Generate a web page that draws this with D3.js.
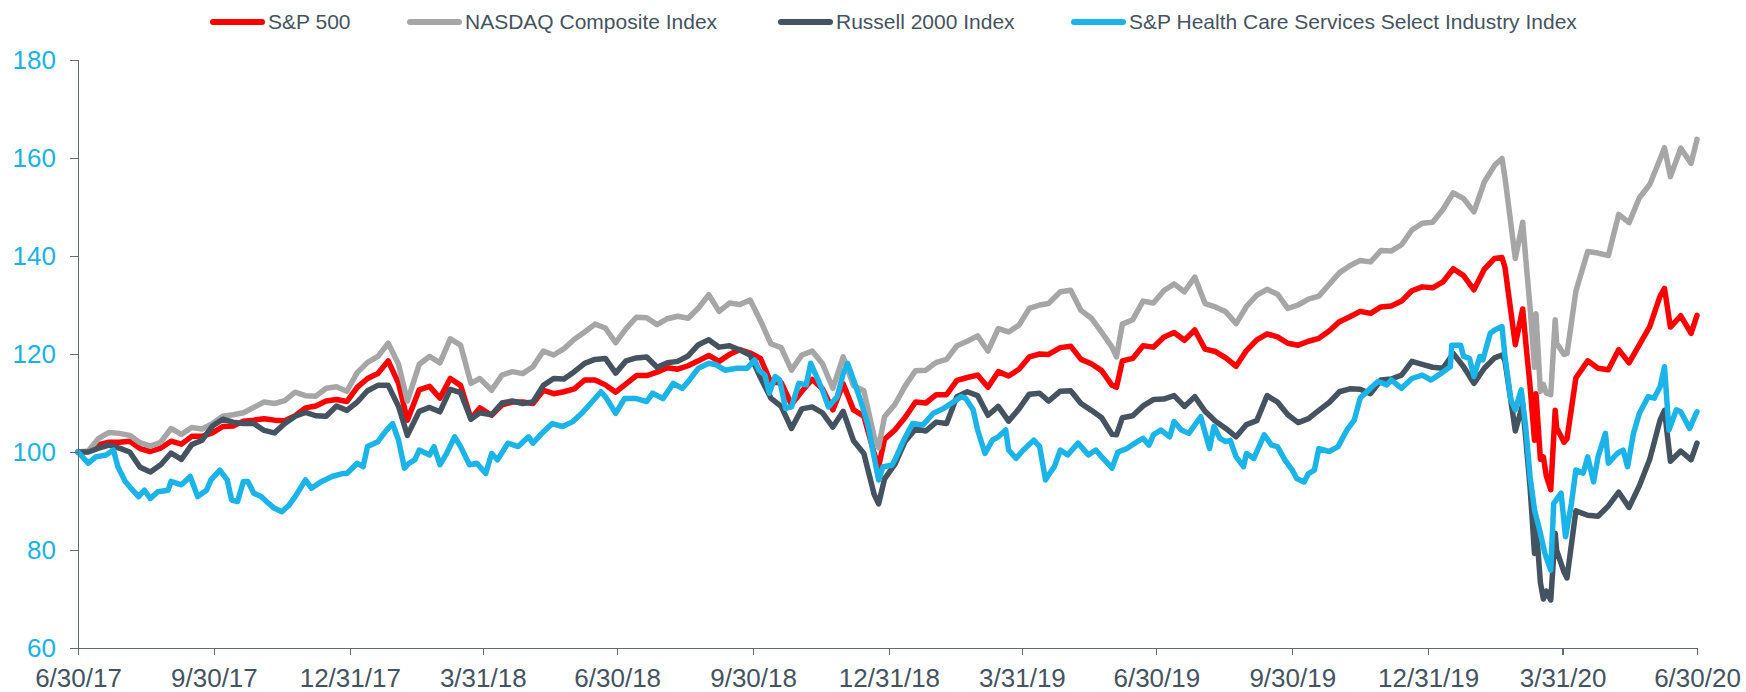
<!DOCTYPE html>
<html>
<head>
<meta charset="utf-8">
<script src="https://cdn.jsdelivr.net/npm/d3@7"></script>
<style>
    body { margin: 0; background: #fff; }
    svg { display: block; font-family: "Liberation Sans", Arial, sans-serif; }
    .axis path, .axis line { stroke: #5f6b75; stroke-width: 1.3; shape-rendering: crispEdges; }
    .y.axis text { fill: #1ab2e6; font-size: 26px; }
    .x.axis text { fill: #45535f; font-size: 26px; }
    .legend text { fill: #45535f; font-size: 21px; }
    .line { fill: none; stroke-width: 5.5; stroke-linejoin: round; stroke-linecap: round; }
</style>
</head>
<body>
<div id="chart"></div>
<script>
"use strict";

// Series names and colours, in legend order
var seriesNames = ["S&P 500", "NASDAQ Composite Index", "Russell 2000 Index",
    "S&P Health Care Services Select Industry Index"];
var seriesColors = ["#ff0000", "#a6a6a6", "#44535f", "#1ab4e8"];

// X axis tick dates (quarter ends)
var tickDates = ["2017-06-30", "2017-09-30", "2017-12-31", "2018-03-31", "2018-06-30",
    "2018-09-30", "2018-12-31", "2019-03-31", "2019-06-30", "2019-09-30",
    "2019-12-31", "2020-03-31", "2020-06-30"];
var tickLabels = ["6/30/17", "9/30/17", "12/31/17", "3/31/18", "6/30/18", "9/30/18",
    "12/31/18", "3/31/19", "6/30/19", "9/30/19", "12/31/19", "3/31/20", "6/30/20"];
var yTicks = [60, 80, 100, 120, 140, 160, 180];

// Dates shared by the three broad indices
var indexDates = [
    "2017-06-30", "2017-07-07", "2017-07-14", "2017-07-21", "2017-07-28", "2017-08-04", "2017-08-11",
    "2017-08-18", "2017-08-25", "2017-09-01", "2017-09-08", "2017-09-15", "2017-09-22", "2017-09-29",
    "2017-10-06", "2017-10-13", "2017-10-20", "2017-10-27", "2017-11-03", "2017-11-10", "2017-11-17",
    "2017-11-24", "2017-12-01", "2017-12-08", "2017-12-15", "2017-12-22", "2017-12-29",
    "2018-01-05", "2018-01-12", "2018-01-19", "2018-01-26", "2018-02-02", "2018-02-08", "2018-02-16",
    "2018-02-23", "2018-03-02", "2018-03-09", "2018-03-16", "2018-03-23", "2018-03-29", "2018-04-06",
    "2018-04-13", "2018-04-20", "2018-04-27", "2018-05-04", "2018-05-11", "2018-05-18", "2018-05-25",
    "2018-06-01", "2018-06-08", "2018-06-15", "2018-06-22", "2018-06-29", "2018-07-06", "2018-07-13",
    "2018-07-20", "2018-07-27", "2018-08-03", "2018-08-10", "2018-08-17", "2018-08-24", "2018-08-31",
    "2018-09-07", "2018-09-14", "2018-09-21", "2018-09-28", "2018-10-05", "2018-10-12", "2018-10-19",
    "2018-10-26", "2018-11-02", "2018-11-09", "2018-11-16", "2018-11-23", "2018-11-30", "2018-12-07",
    "2018-12-14", "2018-12-21", "2018-12-24", "2018-12-28",
    "2019-01-04", "2019-01-11", "2019-01-18", "2019-01-25", "2019-02-01", "2019-02-08", "2019-02-15",
    "2019-02-22", "2019-03-01", "2019-03-08", "2019-03-15", "2019-03-22", "2019-03-29", "2019-04-05",
    "2019-04-12", "2019-04-18", "2019-04-26", "2019-05-03", "2019-05-10", "2019-05-17", "2019-05-24",
    "2019-05-31", "2019-06-03", "2019-06-07", "2019-06-14", "2019-06-21", "2019-06-28", "2019-07-05",
    "2019-07-12", "2019-07-19", "2019-07-26", "2019-08-02", "2019-08-09", "2019-08-16", "2019-08-23",
    "2019-08-30", "2019-09-06", "2019-09-13", "2019-09-20", "2019-09-27", "2019-10-04", "2019-10-11",
    "2019-10-18", "2019-10-25", "2019-11-01", "2019-11-08", "2019-11-15", "2019-11-22", "2019-11-29",
    "2019-12-06", "2019-12-13", "2019-12-20", "2019-12-27",
    "2020-01-03", "2020-01-10", "2020-01-17", "2020-01-24", "2020-01-31", "2020-02-07", "2020-02-14",
    "2020-02-19", "2020-02-21", "2020-02-28", "2020-03-04", "2020-03-06", "2020-03-09", "2020-03-12",
    "2020-03-13", "2020-03-16", "2020-03-18", "2020-03-20", "2020-03-23", "2020-03-26", "2020-03-27",
    "2020-04-01", "2020-04-03", "2020-04-09", "2020-04-17", "2020-04-24", "2020-05-01", "2020-05-08",
    "2020-05-15", "2020-05-22", "2020-05-29", "2020-06-05", "2020-06-08", "2020-06-12", "2020-06-19",
    "2020-06-26", "2020-06-30"
];

var spxValues = [
    100.0, 100.1, 101.5, 102.0, 102.0, 102.2, 100.7, 100.1, 100.8, 102.2, 101.6, 103.2, 103.2, 103.9,
    105.2, 105.3, 106.3, 106.5, 106.8, 106.5, 106.4, 107.4, 109.0, 109.4, 110.4, 110.7, 110.3,
    113.2, 115.0, 116.0, 118.6, 114.0, 106.5, 112.7, 113.4, 111.0, 115.0, 113.6, 106.8, 109.0, 107.5,
    109.6, 110.2, 110.2, 109.9, 112.6, 111.9, 112.3, 112.9, 114.7, 114.7, 113.7, 112.2, 113.9, 115.6,
    115.6, 116.3, 117.2, 116.9, 117.6, 118.6, 119.7, 118.5, 119.9, 120.9, 120.2, 119.1, 114.2, 114.2,
    109.7, 112.4, 114.8, 112.9, 108.6, 113.9, 108.6, 107.3, 99.7, 97.0, 102.6,
    104.5, 107.1, 110.2, 110.0, 111.7, 111.7, 114.6, 115.2, 115.7, 113.2, 116.4, 115.5, 116.9, 119.4,
    120.0, 119.9, 121.3, 121.6, 118.9, 118.0, 116.6, 113.6, 113.2, 118.6, 119.1, 121.7, 121.4, 123.4,
    124.4, 122.8, 124.9, 121.0, 120.5, 119.2, 117.5, 120.7, 122.9, 124.1, 123.5, 122.2, 121.8, 122.6,
    123.2, 124.7, 126.6, 127.6, 128.7, 128.3, 129.6, 129.8, 130.8, 132.9, 133.7,
    133.5, 134.7, 137.4, 136.0, 133.1, 137.3, 139.5, 139.7, 137.7, 121.9, 129.2, 122.6, 113.4, 102.4,
    111.9, 98.5, 99.0, 95.1, 92.3, 108.5, 104.9, 102.0, 102.7, 115.1, 118.6, 117.1, 116.8, 120.9,
    118.2, 121.9, 125.6, 131.8, 133.4, 125.5, 127.8, 124.2, 127.9
];

var nasdaqValues = [
    100.0, 100.2, 102.8, 104.0, 103.8, 103.4, 101.9, 101.2, 102.0, 104.8, 103.6, 105.0, 104.7, 105.8,
    107.3, 107.6, 108.0, 109.1, 110.2, 109.9, 110.5, 112.2, 111.5, 111.4, 113.0, 113.3, 112.4,
    116.2, 118.3, 119.5, 122.2, 117.9, 110.4, 117.9, 119.5, 118.2, 123.1, 121.8, 114.0, 115.0, 112.6,
    115.7, 116.4, 116.0, 117.4, 120.6, 119.8, 121.1, 123.0, 124.5, 126.1, 125.3, 122.3, 125.2, 127.5,
    127.4, 126.0, 127.2, 127.7, 127.3, 129.4, 132.1, 128.7, 130.4, 130.1, 131.0, 126.8, 122.1, 121.3,
    116.7, 119.8, 120.6, 118.0, 113.0, 119.4, 113.5, 112.5, 103.1, 100.9, 107.2,
    109.7, 113.5, 116.6, 116.7, 118.3, 118.9, 121.7, 122.6, 123.7, 120.6, 125.2, 124.5, 125.9, 129.3,
    130.0, 130.3, 132.7, 133.0, 128.9, 127.3, 124.4, 121.4, 119.4, 126.1, 127.0, 130.8, 130.4, 132.9,
    134.3, 132.7, 135.7, 130.3, 129.6, 128.6, 126.2, 129.7, 132.0, 133.2, 132.2, 129.3, 130.0, 131.2,
    131.8, 134.2, 136.6, 138.0, 139.1, 138.8, 141.1, 141.0, 142.3, 145.3, 146.7,
    146.9, 149.5, 152.9, 151.7, 149.0, 155.1, 158.5, 159.9, 156.0, 139.5, 146.9, 139.7, 129.5, 117.3,
    128.2, 112.4, 113.8, 112.0, 111.7, 127.0, 122.2, 119.9, 120.1, 132.8, 140.9, 140.6, 140.1, 148.5,
    146.8, 151.9, 154.6, 159.8, 162.1, 156.2, 162.0, 158.9, 163.8
];

var russellValues = [
    100.0, 100.0, 100.8, 101.4, 100.8, 100.0, 96.9, 95.9, 97.4, 99.8, 98.5, 101.5, 102.4, 105.3,
    106.7, 106.1, 105.8, 105.8, 104.4, 103.9, 105.8, 107.3, 108.1, 107.4, 107.3, 109.4, 108.5,
    110.2, 112.5, 113.6, 113.6, 109.3, 103.4, 108.3, 109.1, 108.2, 112.8, 112.1, 106.7, 108.0, 107.6,
    110.0, 110.4, 109.9, 110.2, 113.6, 115.0, 114.9, 116.4, 118.1, 118.9, 119.1, 116.1, 118.6, 119.2,
    119.4, 117.3, 118.2, 118.5, 119.6, 121.9, 122.9, 121.4, 121.7, 120.8, 119.8, 115.2, 111.0, 109.3,
    104.8, 108.8, 109.2, 108.0, 105.1, 108.3, 102.3, 99.7, 91.3, 89.4, 94.5,
    97.5, 102.2, 104.7, 104.3, 106.1, 105.8, 111.3, 112.3, 111.5, 107.5, 109.3, 106.3, 108.8, 111.8,
    112.0, 110.4, 112.4, 112.5, 109.9, 108.5, 107.0, 103.6, 103.5, 107.0, 107.4, 109.4, 110.7, 110.8,
    111.5, 109.3, 111.3, 108.3, 106.3, 104.8, 103.1, 105.6, 106.4, 111.5, 110.2, 107.6, 106.0, 106.8,
    108.5, 110.1, 112.3, 112.9, 112.8, 111.9, 114.7, 114.9, 115.7, 118.5, 117.9,
    117.3, 117.1, 120.1, 117.4, 114.0, 117.1, 119.2, 119.8, 118.6, 104.3, 109.7, 103.0, 92.8, 79.3,
    85.5, 73.3, 70.0, 71.6, 69.8, 83.4, 79.9, 75.5, 74.3, 88.0, 87.1, 86.9, 89.0, 91.8,
    88.7, 93.1, 98.5, 106.5, 108.5, 98.1, 100.2, 98.4, 101.8
];

// Health care services index, read at its own dates
var hcSeries = [
    ["2017-06-30", 100.0], ["2017-07-07", 97.7], ["2017-07-12", 99.0], ["2017-07-19", 99.4],
    ["2017-07-24", 100.4], ["2017-07-27", 97.0], ["2017-08-01", 94.0], ["2017-08-04", 92.9],
    ["2017-08-10", 90.9], ["2017-08-14", 92.2], ["2017-08-18", 90.5], ["2017-08-23", 91.9],
    ["2017-08-30", 92.2], ["2017-09-01", 94.0], ["2017-09-08", 93.3], ["2017-09-14", 95.0],
    ["2017-09-19", 90.9], ["2017-09-25", 92.2], ["2017-09-28", 94.3], ["2017-10-04", 96.3],
    ["2017-10-09", 94.3], ["2017-10-12", 90.2], ["2017-10-16", 89.9], ["2017-10-20", 94.0],
    ["2017-10-23", 94.0], ["2017-10-27", 91.6], ["2017-11-01", 90.9], ["2017-11-06", 89.5],
    ["2017-11-10", 88.5], ["2017-11-15", 87.8], ["2017-11-20", 89.2], ["2017-11-24", 90.9],
    ["2017-12-01", 94.3], ["2017-12-05", 92.6], ["2017-12-12", 94.0], ["2017-12-19", 95.0],
    ["2017-12-26", 95.6], ["2017-12-29", 95.6],
    ["2018-01-05", 97.7], ["2018-01-09", 97.0], ["2018-01-12", 101.1], ["2018-01-19", 102.1],
    ["2018-01-25", 104.5], ["2018-01-29", 105.8], ["2018-02-02", 102.4], ["2018-02-06", 96.7],
    ["2018-02-09", 97.7], ["2018-02-13", 98.4], ["2018-02-16", 100.4], ["2018-02-23", 99.4],
    ["2018-02-26", 101.1], ["2018-03-02", 97.4], ["2018-03-06", 99.4], ["2018-03-12", 103.1],
    ["2018-03-16", 101.1], ["2018-03-22", 97.4], ["2018-03-27", 97.7], ["2018-04-02", 95.6],
    ["2018-04-06", 99.7], ["2018-04-10", 98.4], ["2018-04-17", 101.8], ["2018-04-24", 101.1],
    ["2018-05-01", 103.1], ["2018-05-04", 101.8], ["2018-05-10", 103.8], ["2018-05-17", 105.8],
    ["2018-05-24", 105.2], ["2018-05-31", 106.2], ["2018-06-06", 107.9], ["2018-06-12", 109.9],
    ["2018-06-19", 112.3], ["2018-06-22", 111.3], ["2018-06-29", 107.9], ["2018-07-05", 110.9],
    ["2018-07-13", 110.9], ["2018-07-20", 110.3], ["2018-07-24", 112.0], ["2018-07-31", 110.9],
    ["2018-08-07", 114.0], ["2018-08-13", 113.0], ["2018-08-17", 114.3], ["2018-08-24", 117.1],
    ["2018-08-31", 118.1], ["2018-09-05", 117.8], ["2018-09-11", 116.7], ["2018-09-19", 117.1],
    ["2018-09-26", 117.1], ["2018-10-01", 118.8], ["2018-10-04", 116.7], ["2018-10-08", 115.7],
    ["2018-10-11", 112.0], ["2018-10-15", 115.4], ["2018-10-18", 114.7], ["2018-10-22", 108.9],
    ["2018-10-26", 109.2], ["2018-10-31", 114.0], ["2018-11-05", 113.7], ["2018-11-08", 118.1],
    ["2018-11-12", 115.4], ["2018-11-16", 112.6], ["2018-11-20", 109.2], ["2018-11-26", 111.3],
    ["2018-11-30", 116.0], ["2018-12-03", 118.1], ["2018-12-07", 114.7], ["2018-12-12", 110.3],
    ["2018-12-17", 105.2], ["2018-12-20", 100.4], ["2018-12-24", 94.3], ["2018-12-27", 97.0],
    ["2019-01-02", 97.3], ["2019-01-04", 98.4], ["2019-01-10", 102.4], ["2019-01-16", 105.8],
    ["2019-01-23", 105.5], ["2019-01-30", 107.9], ["2019-02-06", 108.9], ["2019-02-11", 109.9],
    ["2019-02-18", 111.3], ["2019-02-21", 110.9], ["2019-02-26", 108.6], ["2019-03-01", 104.5],
    ["2019-03-06", 99.7], ["2019-03-11", 102.4], ["2019-03-15", 103.1], ["2019-03-20", 104.5],
    ["2019-03-22", 100.4], ["2019-03-27", 98.7], ["2019-04-01", 100.4], ["2019-04-08", 102.4],
    ["2019-04-12", 101.1], ["2019-04-16", 94.3], ["2019-04-18", 95.3], ["2019-04-22", 97.0],
    ["2019-04-26", 100.4], ["2019-05-01", 99.4], ["2019-05-08", 101.8], ["2019-05-15", 99.4],
    ["2019-05-20", 100.4], ["2019-05-24", 99.0], ["2019-05-31", 96.7], ["2019-06-04", 100.0],
    ["2019-06-10", 100.7], ["2019-06-17", 102.1], ["2019-06-21", 102.8], ["2019-06-25", 101.4],
    ["2019-06-28", 103.5], ["2019-07-03", 104.5], ["2019-07-09", 103.1], ["2019-07-12", 106.2],
    ["2019-07-17", 104.5], ["2019-07-22", 103.8], ["2019-07-30", 107.2], ["2019-08-05", 100.7],
    ["2019-08-08", 105.2], ["2019-08-12", 102.8], ["2019-08-16", 102.1], ["2019-08-19", 102.4],
    ["2019-08-23", 99.0], ["2019-08-28", 97.0], ["2019-08-30", 99.7], ["2019-09-04", 98.7],
    ["2019-09-11", 103.5], ["2019-09-16", 101.4], ["2019-09-20", 101.1], ["2019-09-25", 98.4],
    ["2019-09-30", 96.3], ["2019-10-03", 94.6], ["2019-10-08", 93.9], ["2019-10-11", 95.6],
    ["2019-10-15", 96.3], ["2019-10-18", 100.7], ["2019-10-25", 100.1], ["2019-10-31", 101.1],
    ["2019-11-06", 104.5], ["2019-11-11", 106.5], ["2019-11-15", 111.0], ["2019-11-22", 113.0],
    ["2019-11-27", 114.4], ["2019-12-03", 113.7], ["2019-12-06", 114.7], ["2019-12-13", 113.0],
    ["2019-12-20", 115.0], ["2019-12-27", 115.7],
    ["2020-01-02", 114.7], ["2020-01-09", 116.1], ["2020-01-15", 117.4], ["2020-01-16", 121.8],
    ["2020-01-22", 121.8], ["2020-01-24", 119.5], ["2020-01-28", 119.1], ["2020-01-31", 115.4],
    ["2020-02-04", 119.5], ["2020-02-06", 118.8], ["2020-02-11", 124.2], ["2020-02-14", 124.9],
    ["2020-02-19", 125.6], ["2020-02-21", 119.5], ["2020-02-25", 110.6], ["2020-02-28", 108.6],
    ["2020-03-03", 112.7], ["2020-03-06", 105.2], ["2020-03-09", 95.0], ["2020-03-12", 88.2],
    ["2020-03-16", 83.4], ["2020-03-19", 79.3], ["2020-03-23", 75.9], ["2020-03-25", 89.5],
    ["2020-03-30", 91.6], ["2020-04-02", 82.7], ["2020-04-06", 89.5], ["2020-04-09", 96.3],
    ["2020-04-14", 95.7], ["2020-04-17", 99.0], ["2020-04-21", 93.9], ["2020-04-24", 99.0],
    ["2020-04-29", 103.8], ["2020-05-01", 97.7], ["2020-05-07", 99.7], ["2020-05-11", 100.4],
    ["2020-05-14", 97.0], ["2020-05-18", 103.8], ["2020-05-22", 107.9], ["2020-05-28", 111.3],
    ["2020-06-01", 111.0], ["2020-06-05", 113.3], ["2020-06-08", 117.4], ["2020-06-11", 104.5],
    ["2020-06-16", 108.6], ["2020-06-19", 108.2], ["2020-06-25", 104.8], ["2020-06-29", 107.6],
    ["2020-06-30", 108.2]
];

var parseDate = d3.timeParse("%Y-%m-%d");

var totalWidth = 1746,
    totalHeight = 692,
    margin = {top: 60, right: 49, bottom: 44, left: 78},
    width = totalWidth - margin.left - margin.right,
    height = totalHeight - margin.top - margin.bottom;

// Build one array of [date, value] points per series
function zipIndex(values) {
    if (values.length !== indexDates.length) {
        console.error("length mismatch", values.length, indexDates.length);
    }
    return values.map(function(v, i) { return [parseDate(indexDates[i]), v]; });
}
var seriesData = [
    zipIndex(spxValues),
    zipIndex(nasdaqValues),
    zipIndex(russellValues),
    hcSeries.map(function(d) { return [parseDate(d[0]), d[1]]; })
];

var xScale = d3.scaleTime()
    .domain([parseDate(tickDates[0]), parseDate(tickDates[tickDates.length - 1])])
    .range([0, width]);
var yScale = d3.scaleLinear()
    .domain([60, 180])
    .range([height, 0]);

var svg = d3.select("#chart").append("svg")
    .attr("width", totalWidth)
    .attr("height", totalHeight);

var g = svg.append("g")
    .attr("transform", "translate(" + margin.left + "," + margin.top + ")");

// Lines, drawn in legend order so the last series sits on top
var line = d3.line()
    .x(function(d) { return xScale(d[0]); })
    .y(function(d) { return yScale(d[1]); });

g.append("g").attr("class", "charts")
    .selectAll(".line")
    .data(seriesData)
    .enter()
    .append("path")
    .attr("class", "line")
    .attr("d", line)
    .style("stroke", function(d, i) { return seriesColors[i]; });

// Axes
var xAxis = d3.axisBottom(xScale)
    .tickValues(tickDates.map(parseDate))
    .tickFormat(function(d, i) { return tickLabels[i]; })
    .tickSize(7)
    .tickPadding(14);
var yAxis = d3.axisLeft(yScale)
    .tickValues(yTicks)
    .tickSize(8)
    .tickPadding(14);

g.append("g")
    .attr("class", "x axis")
    .attr("transform", "translate(0," + height + ")")
    .call(xAxis)
    .call(function(a) { a.selectAll("text").attr("font-family", null).attr("font-size", null); });

g.append("g")
    .attr("class", "y axis")
    .call(yAxis)
    .call(function(a) { a.selectAll("text").attr("font-family", null).attr("font-size", null); });

// Legend across the top
var legendX = [210, 407, 778, 1071];
var legend = svg.append("g")
    .attr("class", "legend")
    .attr("transform", "translate(0,22)");

var items = legend.selectAll(".item")
    .data(seriesNames)
    .enter()
    .append("g")
    .attr("class", "item")
    .attr("transform", function(d, i) { return "translate(" + legendX[i] + ",0)"; });

items.append("line")
    .attr("x1", 3).attr("x2", 52)
    .attr("y1", 0).attr("y2", 0)
    .style("stroke", function(d, i) { return seriesColors[i]; })
    .style("stroke-width", 6)
    .style("stroke-linecap", "round");

items.append("text")
    .attr("x", 58)
    .attr("y", 0)
    .attr("dy", "0.35em")
    .text(function(d) { return d; });
</script>
</body>
</html>
